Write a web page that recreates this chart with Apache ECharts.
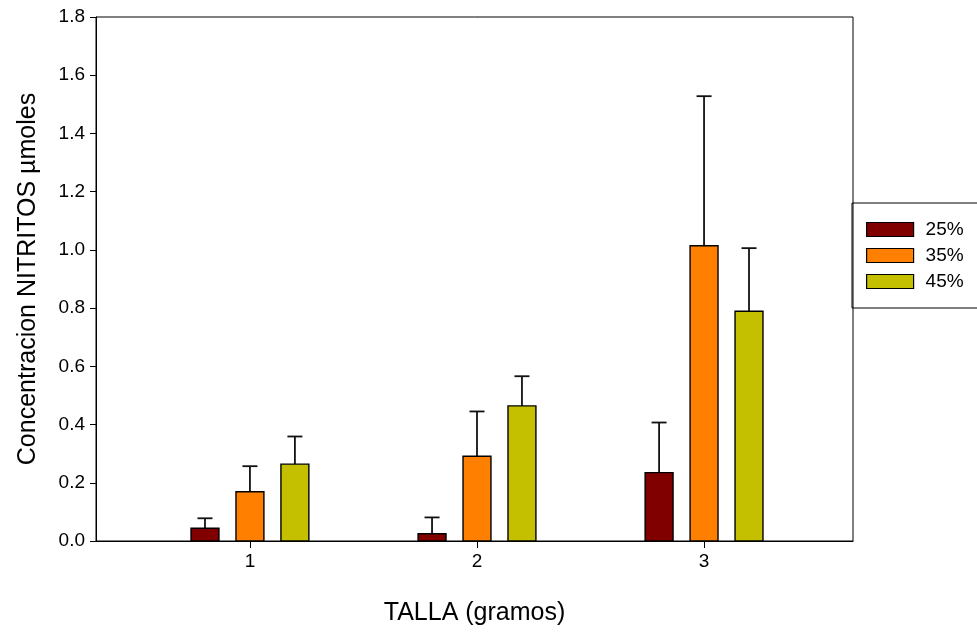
<!DOCTYPE html>
<html>
<head>
<meta charset="utf-8">
<script src="https://cdn.jsdelivr.net/npm/echarts@6/dist/echarts.min.js"></script>
<style>html,body{margin:0;padding:0;background:#fff}#c{width:977px;height:632px}</style>
</head>
<body>
<div id="c"></div>
<script>
var categories = [1, 2, 3];
var seriesNames = ['25%', '35%', '45%'];
var values25 = [0.044, 0.025, 0.235];
var values35 = [0.169, 0.291, 1.014];
var values45 = [0.264, 0.464, 0.789];
var err25 = [0.034, 0.056, 0.172];
var err35 = [0.088, 0.154, 0.514];
var err45 = [0.095, 0.102, 0.217];
var yTicks = [0, 0.2, 0.4, 0.6, 0.8, 1.0, 1.2, 1.4, 1.6, 1.8];
var colors = ['#800000', '#ff8000', '#c4c000'];

var allValues = [values25, values35, values45];
var allErrs = [err25, err35, err45];
var offsets = [-0.198, 0, 0.198];
var barW = 0.123;

function makeSeries(i) {
  var data = categories.map(function (c, k) { return [c, allValues[i][k], allErrs[i][k]]; });
  return {
    type: 'custom',
    name: seriesNames[i],
    itemStyle: { color: colors[i], borderColor: '#000', borderWidth: 1 },
    data: data,
    clip: false,
    renderItem: function (params, api) {
      var x = api.value(0) + offsets[i];
      var v = api.value(1);
      var e = api.value(2);
      var p0 = api.coord([x, 0]);
      var p1 = api.coord([x, v]);
      var pe = api.coord([x, v + e]);
      var w = api.size([barW, 0])[0];
      var cap = 15;
      return {
        type: 'group',
        children: [
          { type: 'line', shape: { x1: p1[0], y1: p1[1], x2: pe[0], y2: pe[1] }, style: { stroke: '#111', lineWidth: 1.8 } },
          { type: 'line', shape: { x1: pe[0] - cap / 2, y1: pe[1], x2: pe[0] + cap / 2, y2: pe[1] }, style: { stroke: '#111', lineWidth: 1.8 } },
          { type: 'rect', shape: { x: p1[0] - w / 2, y: p1[1], width: w, height: p0[1] - p1[1] }, style: { fill: colors[i], stroke: '#000', lineWidth: 1.4 } }
        ]
      };
    }
  };
}

var chart = echarts.init(document.getElementById('c'));
chart.setOption({
  animation: false,
  backgroundColor: '#fff',
  textStyle: { fontFamily: 'Liberation Sans, Arial, sans-serif' },
  grid: { left: 96, top: 17, right: 124, bottom: 91, show: true, borderColor: '#000', borderWidth: 1, backgroundColor: 'transparent' },
  legend: {
    orient: 'vertical',
    left: 852,
    top: 203,
    padding: [17, 100, 17, 14],
    itemGap: 7,
    itemWidth: 47,
    itemHeight: 14,
    borderColor: '#000',
    borderWidth: 1,
    icon: 'rect',
    textStyle: { fontSize: 19, color: '#000', padding: [0, 0, 0, 7], fontFamily: 'Liberation Sans, Arial, sans-serif' },
    data: seriesNames.map(function (n, i) { return { name: n, itemStyle: { color: colors[i], borderColor: '#000', borderWidth: 1.2 } }; })
  },
  xAxis: {
    type: 'value',
    min: 0.322,
    max: 3.656,
    name: 'TALLA (gramos)',
    nameLocation: 'middle',
    nameGap: 60,
    nameTextStyle: { fontSize: 25, color: '#000' },
    axisLine: { show: true, lineStyle: { color: '#000', width: 1 } },
    axisTick: { show: true, inside: false, length: 7, customValues: categories, lineStyle: { color: '#000' } },
    axisLabel: { show: true, fontSize: 19, color: '#000', margin: 11, customValues: categories, formatter: function (v) { return String(v); } },
    splitLine: { show: false }
  },
  yAxis: {
    type: 'value',
    min: 0,
    max: 1.8,
    interval: 0.2,
    name: 'Concentracion NITRITOS µmoles',
    nameLocation: 'middle',
    nameGap: 55,
    nameTextStyle: { fontSize: 25, color: '#000' },
    axisLine: { show: true, lineStyle: { color: '#000', width: 1 } },
    axisTick: { show: true, inside: false, length: 6, lineStyle: { color: '#000' } },
    axisLabel: { fontSize: 19, color: '#000', margin: 11, customValues: yTicks, formatter: function (v) { return v.toFixed(1); } },
    splitLine: { show: false }
  },
  series: [makeSeries(0), makeSeries(1), makeSeries(2)]
});
</script>
</body>
</html>
